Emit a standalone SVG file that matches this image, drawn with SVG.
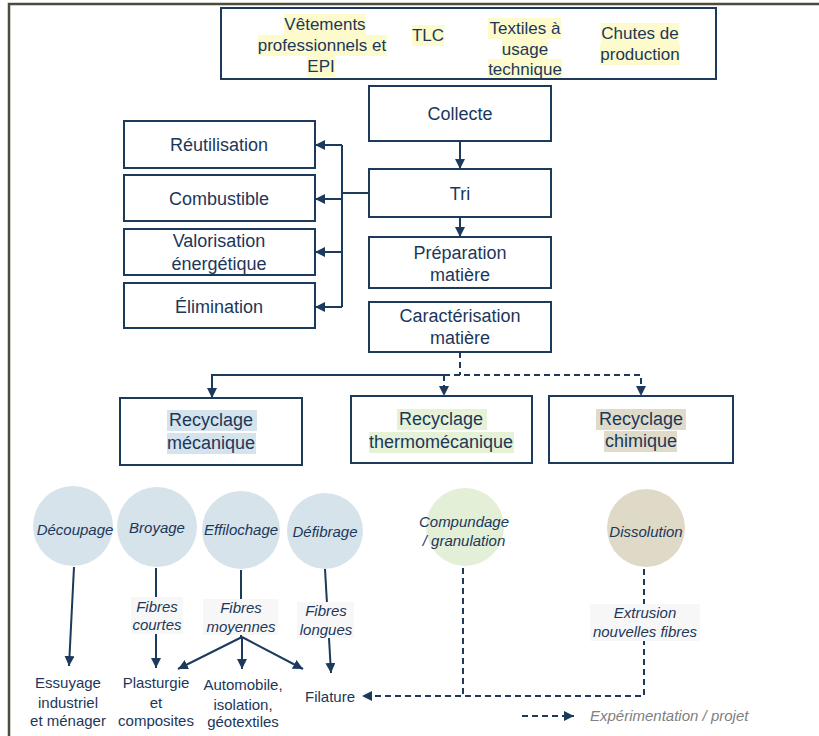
<svg xmlns="http://www.w3.org/2000/svg" width="819" height="736" viewBox="0 0 819 736">
<defs>
<marker id="ah" markerUnits="userSpaceOnUse" markerWidth="10" markerHeight="10" refX="10" refY="5" orient="auto">
<path d="M0,0 L10,5 L0,10 z" fill="#1b3a5c"/>
</marker>
<style>
.box{fill:#fff;stroke:#1b3a5c;stroke-width:2}
.t{font-family:"Liberation Sans",Arial,sans-serif;fill:#1c375a;text-anchor:middle}
.t17{font-size:17px}
.t18{font-size:18px}
.t15{font-size:15px}
.it{font-style:italic}
.c{stroke:#1b3a5c;stroke-width:2;fill:none}
.d{stroke-dasharray:6,4}
.a{marker-end:url(#ah)}
.hy{fill:#fdfbcc}
.lb{fill:#f7f7f7}
</style>
</defs>
<rect width="819" height="736" fill="#fff"/>
<path d="M9,736 V4 H819" fill="none" stroke="#4d4b3b" stroke-width="2.5"/>

<g id="sources">
<rect class="box" x="221" y="8" width="495" height="71"/>
<rect class="hy" x="284" y="14" width="82" height="21"/>
<rect class="hy" x="258" y="35" width="129" height="21"/>
<rect class="hy" x="307" y="56" width="28" height="21"/>
<rect class="hy" x="412" y="25" width="32" height="21"/>
<rect class="hy" x="488" y="18" width="73" height="21"/>
<rect class="hy" x="502" y="39" width="46" height="21"/>
<rect class="hy" x="488" y="59" width="74" height="19"/>
<rect class="hy" x="601" y="23" width="78" height="21"/>
<rect class="hy" x="600" y="44" width="80" height="21"/>
<text class="t t17" x="325" y="30">Vêtements</text>
<text class="t t17" x="322" y="51">professionnels et</text>
<text class="t t17" x="321" y="72">EPI</text>
<text class="t t17" x="428" y="41">TLC</text>
<text class="t t17" x="525" y="34">Textiles à</text>
<text class="t t17" x="525" y="55">usage</text>
<text class="t t17" x="525" y="75">technique</text>
<text class="t t17" x="640" y="39">Chutes de</text>
<text class="t t17" x="640" y="60">production</text>
</g>

<g id="collecte"><rect class="box" x="369" y="86" width="182" height="55"/><text class="t t18" x="460" y="120">Collecte</text></g>
<g id="tri"><rect class="box" x="369" y="169" width="182" height="48"/><text class="t t18" x="460" y="200">Tri</text></g>
<g id="preparation"><rect class="box" x="369" y="237" width="182" height="51"/><text class="t t18" x="460" y="259">Préparation</text><text class="t t18" x="460" y="281">matière</text></g>
<g id="caracterisation"><rect class="box" x="369" y="302" width="182" height="50"/><text class="t t18" x="460" y="322">Caractérisation</text><text class="t t18" x="460" y="344">matière</text></g>

<g id="reutilisation"><rect class="box" x="124" y="121" width="191" height="47"/><text class="t t18" x="219" y="151">Réutilisation</text></g>
<g id="combustible"><rect class="box" x="124" y="175" width="191" height="46"/><text class="t t18" x="219" y="205">Combustible</text></g>
<g id="valorisation"><rect class="box" x="124" y="229" width="191" height="46"/><text class="t t18" x="219" y="247">Valorisation</text><text class="t t18" x="219" y="270">énergétique</text></g>
<g id="elimination"><rect class="box" x="124" y="283" width="191" height="45"/><text class="t t18" x="219" y="313">Élimination</text></g>

<g id="rec-meca"><rect class="box" x="120" y="398" width="182" height="67"/>
<rect x="167" y="410" width="90" height="21" fill="#d5e3ec"/><rect x="167" y="433" width="89" height="21" fill="#d5e3ec"/>
<text class="t t18" x="211" y="426">Recyclage</text><text class="t t18" x="211" y="449">mécanique</text></g>
<g id="rec-thermo"><rect class="box" x="351" y="396" width="181" height="67"/>
<rect x="397" y="409" width="90" height="21" fill="#e5f2d6"/><rect x="369" y="432" width="145" height="21" fill="#e5f2d6"/>
<text class="t t18" x="441" y="425">Recyclage</text><text class="t t18" x="441" y="448">thermomécanique</text></g>
<g id="rec-chimique"><rect class="box" x="549" y="396" width="184" height="67"/>
<rect x="596" y="409" width="90" height="21" fill="#e0dbc8"/><rect x="604" y="431" width="73" height="21" fill="#e0dbc8"/>
<text class="t t18" x="641" y="425">Recyclage</text><text class="t t18" x="641" y="447">chimique</text></g>

<g id="connectors">
<path class="c a" d="M460,141 V169"/>
<path class="c a" d="M460,217 V237"/>
<path class="c" d="M369,193 H342 M342,145 V307"/>
<path class="c a" d="M342,145 H315"/>
<path class="c a" d="M342,199 H315"/>
<path class="c a" d="M342,252 H315"/>
<path class="c a" d="M342,307 H315"/>
<path class="c d" d="M460,352 V375"/>
<path class="c a" d="M444,375 H212 V398"/>
<path class="c d a" d="M444,375 V396"/>
<path class="c d a" d="M444,375 H641 V396"/>
<path class="c a" d="M74,567 L69,666"/>
<path class="c a" d="M156,568 V668"/>
<path class="c" d="M241,570 V637"/>
<path class="c a" d="M242,637 L178,669"/>
<path class="c a" d="M242,637 V669"/>
<path class="c a" d="M242,637 L303,669"/>
<path class="c a" d="M325,569 L331,673"/>
<path class="c d a" d="M463,568 V696 H362"/>
<path class="c d" d="M644,569 V696 H463"/>
<path class="c d a" d="M522,716 H574"/>
</g>

<g id="decoupage"><circle cx="73" cy="526" r="40" fill="#d6e3eb"/><text class="t t15 it" x="75" y="535">Découpage</text></g>
<g id="broyage"><circle cx="157" cy="527" r="40" fill="#d6e3eb"/><text class="t t15 it" x="157" y="533">Broyage</text></g>
<g id="effilochage"><circle cx="241" cy="530" r="39" fill="#d6e3eb"/><text class="t t15 it" x="241" y="535">Effilochage</text></g>
<g id="defibrage"><circle cx="325" cy="531" r="38" fill="#d6e3eb"/><text class="t t15 it" x="325" y="537">Défibrage</text></g>
<g id="compundage"><circle cx="465" cy="527" r="39" fill="#e3efd6"/><text class="t t15 it" x="464" y="527">Compundage</text><text class="t t15 it" x="464" y="546">/ granulation</text></g>
<g id="dissolution"><circle cx="646" cy="528" r="39" fill="#dfd9c7"/><text class="t t15 it" x="646" y="537">Dissolution</text></g>

<g id="lbl-courtes"><rect class="lb" x="131" y="597" width="52" height="37"/><text class="t t15 it" x="157" y="612">Fibres</text><text class="t t15 it" x="157" y="630">courtes</text></g>
<g id="lbl-moyennes"><rect class="lb" x="203" y="599" width="75" height="36"/><text class="t t15 it" x="241" y="613">Fibres</text><text class="t t15 it" x="241" y="632">moyennes</text></g>
<g id="lbl-longues"><rect class="lb" x="297" y="602" width="57" height="36"/><text class="t t15 it" x="326" y="616">Fibres</text><text class="t t15 it" x="326" y="635">longues</text></g>
<g id="lbl-extrusion"><rect class="lb" x="590" y="604" width="110" height="37"/><text class="t t15 it" x="645" y="618">Extrusion</text><text class="t t15 it" x="645" y="637">nouvelles fibres</text></g>

<g id="essuyage"><text class="t t15" x="68" y="688">Essuyage</text><text class="t t15" x="68" y="708">industriel</text><text class="t t15" x="68" y="726">et ménager</text></g>
<g id="plasturgie"><text class="t t15" x="156" y="688">Plasturgie</text><text class="t t15" x="156" y="708">et</text><text class="t t15" x="156" y="726">composites</text></g>
<g id="automobile"><text class="t t15" x="243" y="690">Automobile,</text><text class="t t15" x="243" y="710">isolation,</text><text class="t t15" x="243" y="727">géotextiles</text></g>
<g id="filature"><text class="t t15" x="330" y="702">Filature</text></g>

<g id="legend"><text class="t t15 it" x="590" y="721" style="text-anchor:start;fill:#808080">Expérimentation / projet</text></g>
</svg>
